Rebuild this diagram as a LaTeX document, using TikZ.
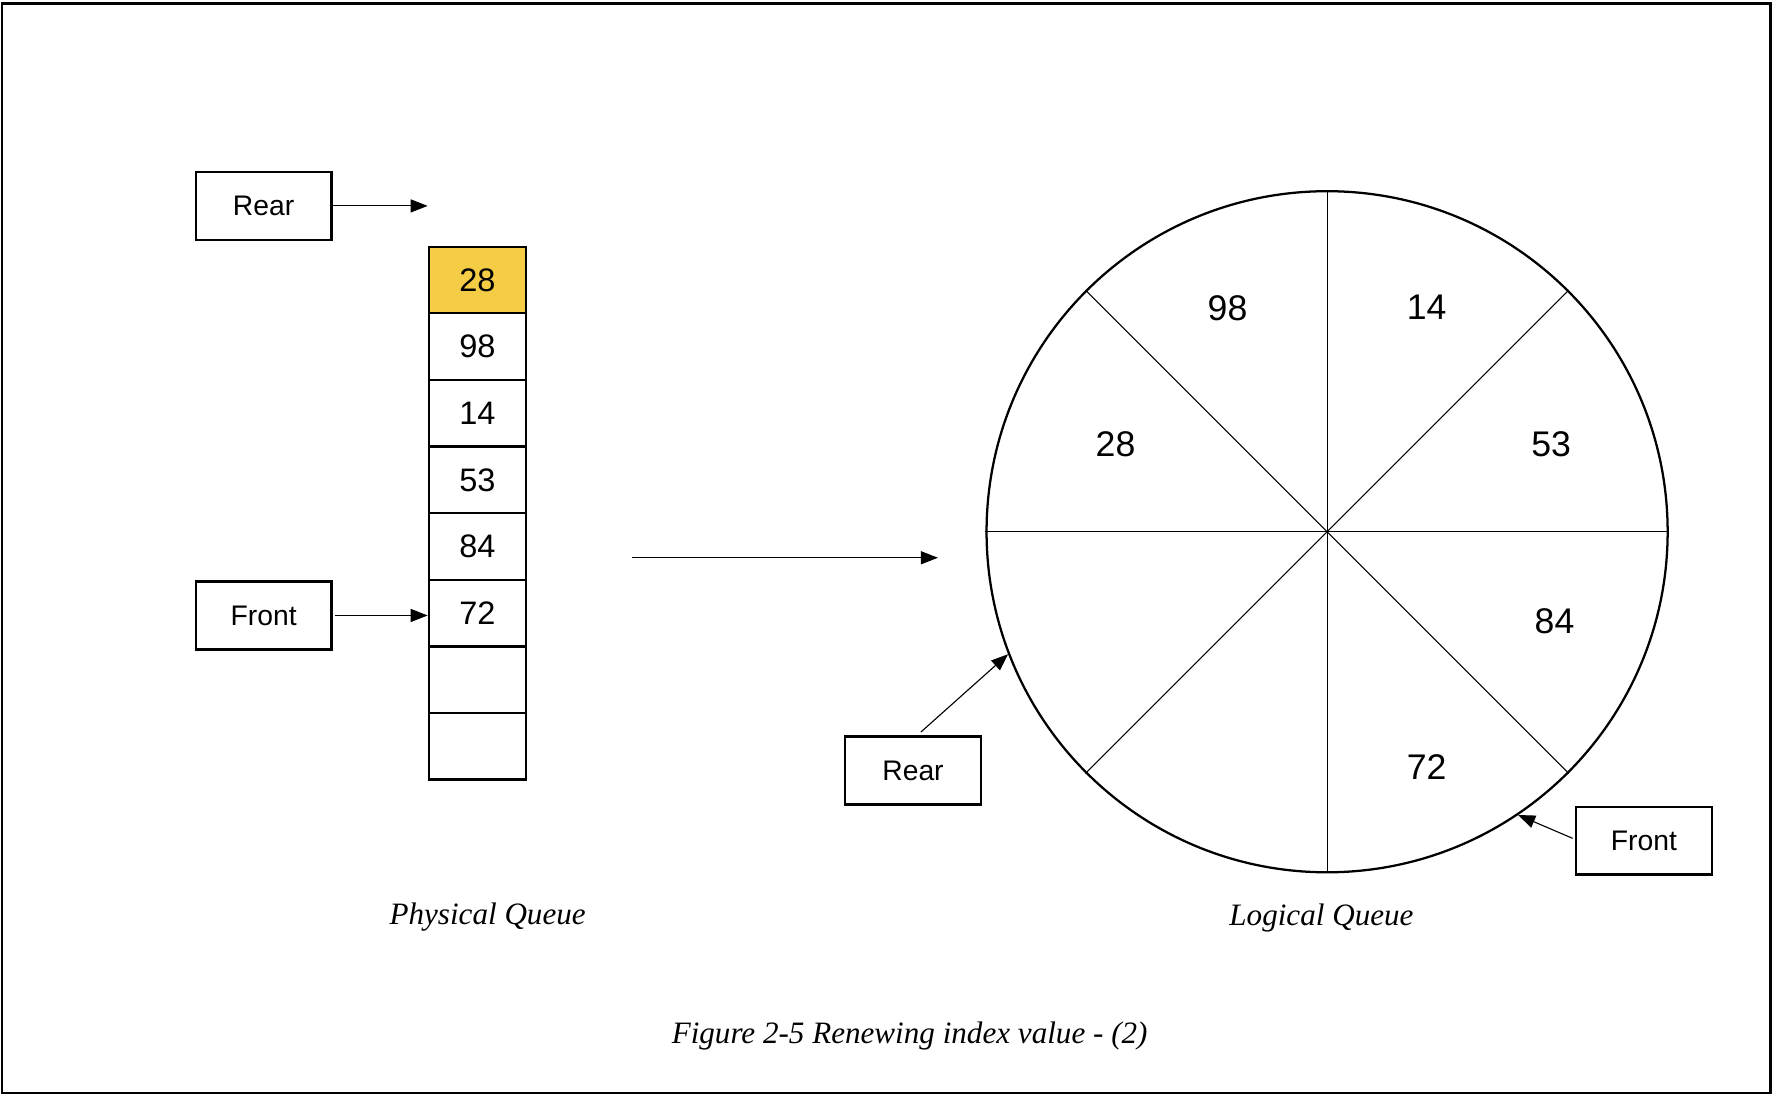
\documentclass[tikz,border=0pt]{standalone}
\usepackage{fontspec}
\setmainfont{Liberation Serif}
\setsansfont{Liberation Sans}
\usetikzlibrary{arrows.meta,calc,positioning}
\definecolor{qyellow}{RGB}{244,204,69}

\begin{document}
\begin{tikzpicture}[x=0.4pt,y=0.4pt,every node/.style={font=\sffamily},
  box/.style={draw,line width=0.8pt,minimum width=48pt,minimum height=24pt,inner sep=0pt,font=\sffamily\fontsize{10}{12}\selectfont},
  cell/.style={draw,line width=0.8pt,minimum width=34.4pt,minimum height=23.55pt,inner sep=0pt,font=\sffamily\fontsize{11.5}{13}\selectfont},
  slot/.style={inner sep=0pt,font=\sffamily\fontsize{12.6}{14}\selectfont},
  ptr/.style={-{Triangle[length=6pt,width=4.6pt]},line width=0.4pt},
  label/.style={font=\rmfamily\itshape\fontsize{11}{13}\selectfont}]
\useasboundingbox (0,0) rectangle (1568,969);
\draw [line width=0.8pt] (2,3) rectangle (1565,966);
% physical queue
\node [cell,fill=qyellow] (cell1) at (422,721.5) {28};
\foreach \v [count=\i from 2] in {98,14,53,84,72,{},{}}
  \node [cell] (cell\i) at (422,{721.5-(\i-1)*58.875}) {\v};
\node [box] (PhysRear) at (233,787) {Rear};
\node [box] (PhysFront) at (233,425) {Front};
\draw [ptr] (PhysRear.east) -- (PhysRear.east -| cell1.west);
\draw [ptr] ($(PhysFront.east)+(2,0)$) -- (PhysFront.east -| cell6.west);
\node [label] (PhysLabel) at (431,158) {Physical Queue};
% middle arrow
\coordinate (MidStart) at (559,476);
\coordinate (MidEnd) at (829,476);
\draw [ptr] (MidStart) -- (MidEnd);
% logical queue
\node [circle,draw,line width=0.8pt,minimum size=240.8pt,inner sep=0pt] (Ring) at (1173,499) {};
\foreach \a/\b in {0/180,45/225,90/270,135/315}
  \draw [line width=0.4pt] (Ring.\a) -- (Ring.\b);
\foreach \v/\dx/\dy [count=\k] in {98/-88/198,14/88/198,28/-187/77,53/198/77,84/201/-79,72/88/-208}
  \node [slot] (Slot\k) at ($(Ring.center)+(\dx,\dy)$) {\v};
\node [box] (RingRear) at (807,288) {Rear};
\node [box] (RingFront) at (1453,226) {Front};
\draw [ptr] ($(RingRear.north)+(7,3)$) -- (Ring.201);
\draw [ptr] ($(RingFront.west)+(-2,2)$) -- (Ring.304);
\node [label] (LogLabel) at (1168,158) {Logical Queue};
\node [label] (FigCaption) at (804,53) {Figure 2-5 Renewing index value - (2)};
\end{tikzpicture}
\end{document}
